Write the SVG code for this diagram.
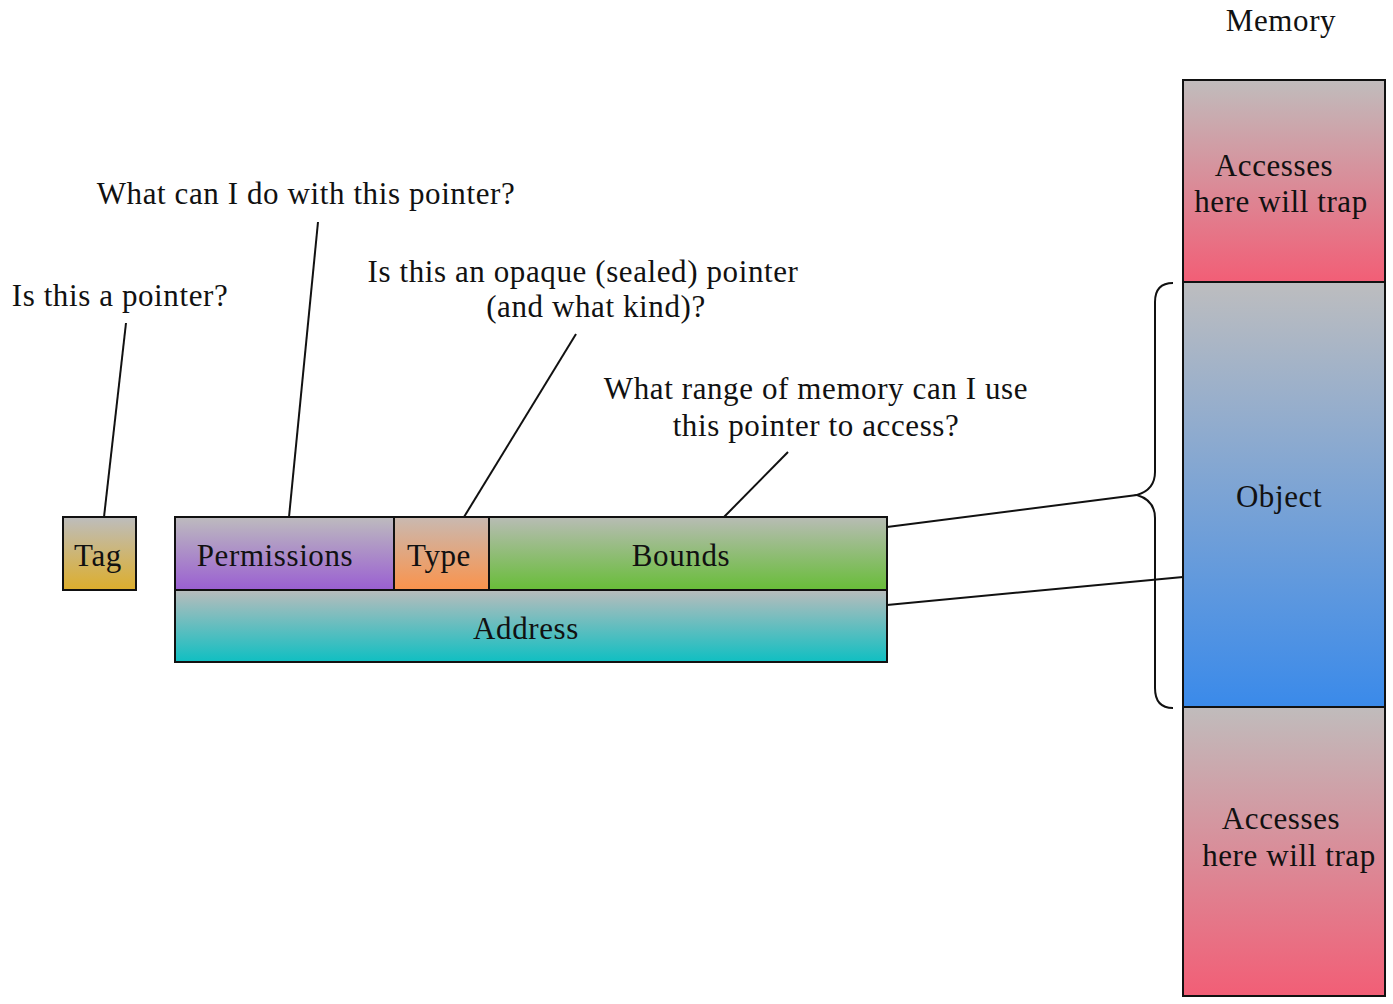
<svg xmlns="http://www.w3.org/2000/svg" width="1393" height="1004" viewBox="0 0 1393 1004">
<style>
text{font-family:"Liberation Serif","DejaVu Serif",serif;font-size:31px;letter-spacing:0.6px;fill:#111;text-anchor:middle}
.box{stroke:#111;stroke-width:2}
.ln{stroke:#111;stroke-width:2;fill:none}
</style>
<defs>
<linearGradient id="gTag" x1="0" y1="0" x2="0" y2="1"><stop offset="0" stop-color="#bdbdbd"/><stop offset="1" stop-color="#ddae2c"/></linearGradient>
<linearGradient id="gPerm" x1="0" y1="0" x2="0" y2="1"><stop offset="0" stop-color="#bdbbbe"/><stop offset="1" stop-color="#9a5fd2"/></linearGradient>
<linearGradient id="gType" x1="0" y1="0" x2="0" y2="1"><stop offset="0" stop-color="#c9b9b1"/><stop offset="1" stop-color="#fa934c"/></linearGradient>
<linearGradient id="gBounds" x1="0" y1="0" x2="0" y2="1"><stop offset="0" stop-color="#b8bcb5"/><stop offset="1" stop-color="#68bd38"/></linearGradient>
<linearGradient id="gAddr" x1="0" y1="0" x2="0" y2="1"><stop offset="0" stop-color="#b9bcbc"/><stop offset="1" stop-color="#0fbfc2"/></linearGradient>
<linearGradient id="gTrap" x1="0" y1="0" x2="0" y2="1"><stop offset="0" stop-color="#c0bcbc"/><stop offset="1" stop-color="#f25e76"/></linearGradient>
<linearGradient id="gObj" x1="0" y1="0" x2="0" y2="1"><stop offset="0" stop-color="#bdbdbf"/><stop offset="1" stop-color="#3a8aea"/></linearGradient>
</defs>

<g id="connectors">
<line class="ln" x1="104" y1="517" x2="126" y2="323"/>
<line class="ln" x1="289" y1="517" x2="318" y2="222"/>
<line class="ln" x1="464" y1="517" x2="576" y2="334"/>
<line class="ln" x1="724" y1="517" x2="788" y2="452"/>
<line class="ln" x1="887" y1="527" x2="1137" y2="495"/>
<line class="ln" x1="887" y1="605" x2="1183" y2="577"/>
<path class="ln" d="M1173,283 C1160,283 1155,290 1155,302 L1155,472 C1155,485 1147,492 1137,495 C1147,498 1155,505 1155,518 L1155,688 C1155,700 1160,708 1173,708"/>
</g>

<g id="labels">
<text x="1281" y="31">Memory</text>
<text x="306" y="204">What can I do with this pointer?</text>
<text x="120" y="306">Is this a pointer?</text>
<text x="583" y="282">Is this an opaque (sealed) pointer</text>
<text x="596" y="317">(and what kind)?</text>
<text x="816" y="399">What range of memory can I use</text>
<text x="816" y="436">this pointer to access?</text>
</g>

<g id="tag"><rect class="box" x="63" y="517" width="73" height="73" fill="url(#gTag)"/><text x="98" y="566">Tag</text></g>
<g id="permissions"><rect class="box" x="175" y="517" width="219" height="73" fill="url(#gPerm)"/><text x="275" y="566">Permissions</text></g>
<g id="type"><rect class="box" x="394" y="517" width="95" height="73" fill="url(#gType)"/><text x="439" y="566">Type</text></g>
<g id="bounds"><rect class="box" x="489" y="517" width="398" height="73" fill="url(#gBounds)"/><text x="681" y="566">Bounds</text></g>
<g id="address"><rect class="box" x="175" y="590" width="712" height="72" fill="url(#gAddr)"/><text x="526" y="639">Address</text></g>

<g id="trap-top"><rect class="box" x="1183" y="80" width="202" height="202" fill="url(#gTrap)"/><text x="1274" y="176">Accesses</text><text x="1281" y="212">here will trap</text></g>
<g id="object"><rect class="box" x="1183" y="282" width="202" height="425" fill="url(#gObj)"/><text x="1279" y="507">Object</text></g>
<g id="trap-bottom"><rect class="box" x="1183" y="707" width="202" height="289" fill="url(#gTrap)"/><text x="1281" y="829">Accesses</text><text x="1289" y="866">here will trap</text></g>
</svg>
